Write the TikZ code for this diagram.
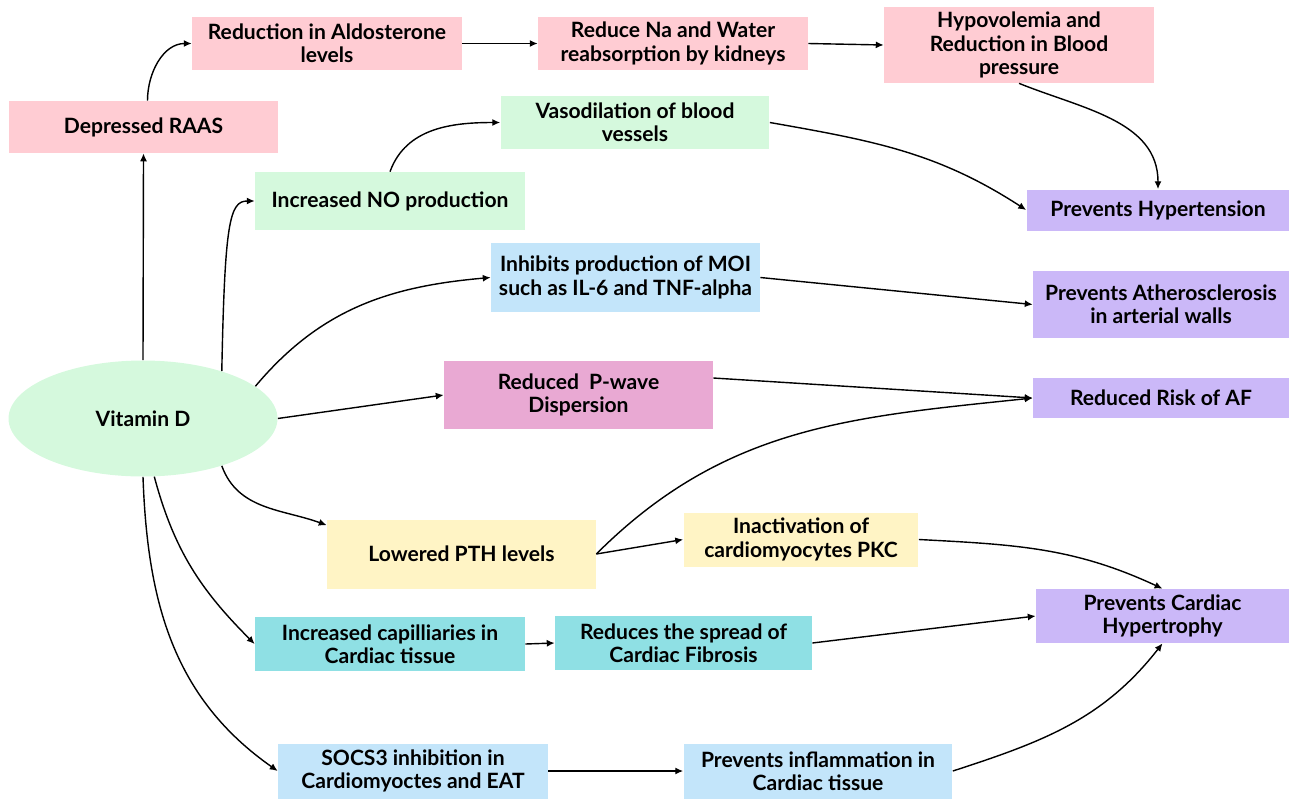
\documentclass[tikz,border=0pt]{standalone}
\usepackage{fontspec}
\setmainfont{Lato}
\usepackage{tikz}
\usetikzlibrary{arrows.meta,calc,positioning,shapes.geometric}

\definecolor{raaspink}{HTML}{FFCCD3}
\definecolor{nogreen}{HTML}{D5F9DD}
\definecolor{moiblue}{HTML}{C3E5FA}
\definecolor{pwavepink}{HTML}{E9A9D3}
\definecolor{outpurple}{HTML}{CBB8F8}
\definecolor{pthyellow}{HTML}{FFF4C5}
\definecolor{fibrocyan}{HTML}{8FE0E4}

\begin{document}
\begin{tikzpicture}[
    x=0.02cm, y=-0.02cm,
    font=\fontsize{12}{13.2}\selectfont\bfseries,
    box/.style={rectangle, align=center, inner sep=0, minimum width=5.4cm, minimum height=1.06cm},
    pinkbox/.style={box, fill=raaspink},
    greenbox/.style={box, fill=nogreen},
    bluebox/.style={box, fill=moiblue},
    purplebox/.style={box, fill=outpurple, minimum width=5.12cm},
    yellowbox/.style={box, fill=pthyellow},
    cyanbox/.style={box, fill=fibrocyan},
    arr/.style={-{Latex[length=4.5pt,width=4pt]}, line width=0.8pt}]

\useasboundingbox (0,0) rectangle (1290,798);

\node[ellipse, fill=nogreen, minimum width=5.38cm, minimum height=2.32cm, inner sep=0] (vitd) at (143,418.5) {Vitamin D};

\node[pinkbox, minimum width=5.38cm, minimum height=1.04cm] (raas) at (143.5,127) {Depressed RAAS};
\node[pinkbox] (aldo) at (327,43.5) {Reduction in Aldosterone\\levels};
\node[pinkbox] (kidney) at (673,43.5) {Reduce Na and Water\\reabsorption by kidneys};
\node[pinkbox, minimum height=1.52cm] (hypovol) at (1019,45) {Hypovolemia and\\Reduction in Blood\\pressure};

\node[greenbox, minimum width=5.38cm] (vaso) at (635,122.5) {Vasodilation of blood\\vessels};
\node[greenbox, minimum height=1.16cm] (nitric) at (390,201) {Increased NO production};

\node[bluebox, minimum width=5.38cm, minimum height=1.38cm] (moi) at (625.5,277.5) {Inhibits production of MOI\\such as IL-6 and TNF-alpha};
\node[box, fill=pwavepink, minimum width=5.38cm, minimum height=1.36cm] (pwave) at (578.5,395) {Reduced\ \ P-wave\\Dispersion};

\node[purplebox, minimum width=5.26cm, minimum height=0.82cm] (hypert) at (1158,210) {Prevents Hypertension};
\node[purplebox, minimum height=1.34cm] (athero) at (1161,304.5) {Prevents Atherosclerosis\\in arterial walls};
\node[purplebox, minimum height=0.8cm] (afrisk) at (1161,398) {Reduced Risk of AF};
\node[purplebox, minimum width=5.06cm, minimum height=1.08cm] (hypertro) at (1162.5,616) {Prevents Cardiac\\Hypertrophy};

\node[yellowbox, minimum width=5.38cm, minimum height=1.38cm] (pth) at (461.5,554) {Lowered PTH levels};
\node[yellowbox, minimum width=4.7cm, minimum height=1.08cm] (pkc) at (801,539.5) {Inactivation of\\cardiomyocytes PKC};

\node[cyanbox, minimum height=1.08cm] (capill) at (390,644) {Increased capilliaries in\\Cardiac tissue};
\node[cyanbox, minimum width=5.14cm, minimum height=1.08cm] (fibro) at (683.5,643) {Reduces the spread of\\Cardiac Fibrosis};

\node[bluebox, minimum height=1.1cm] (socs) at (413,771) {SOCS3 inhibition in\\Cardiomyoctes and EAT};
\node[bluebox, minimum width=5.38cm, minimum height=1.1cm] (inflam) at (818,771) {Prevents inflammation in\\Cardiac tissue};

\draw[arr] (vitd.north) -- (raas.south);
\draw[arr] ([xshift=0.08cm]raas.north) to[out=90, in=180] (aldo.west);
\draw[arr] (aldo.east) -- (kidney.west);
\draw[arr] (kidney.east) -- (hypovol.west);
\draw[arr] (hypovol.south) to[out=-22, in=90] (hypert.north);
\draw[arr] (vaso.east) to[out=-10, in=147] (hypert.west);
\draw[arr] (nitric.north) to[out=70, in=180] (vaso.west);
\draw[arr] (vitd.31) .. controls +(3,-150) and +(-25,0) .. (nitric.west);
\draw[arr] (vitd.16) to[out=50, in=185] (moi.west);
\draw[arr] (vitd.east) -- (pwave.west);
\draw[arr] (moi.east) -- (athero.west);
\draw[arr] ([yshift=0.34cm]pwave.east) -- (afrisk.west);
\draw[arr] (pth.east) to[out=45, in=186] (afrisk.west);
\draw[arr] (pth.east) -- (pkc.west);
\draw[arr] (pkc.east) to[out=-3, in=155] (hypertro.north);
\draw[arr] (vitd.-31) to[out=-70, in=160] ([yshift=-0.12cm]pth.north west);
\draw[arr] (vitd.south) to[out=-88, in=145] (socs.west);
\draw[arr] (vitd.-79) to[out=-75, in=135] (capill.west);
\draw[arr] (capill.east) -- (fibro.west);
\draw[arr] (fibro.east) -- (hypertro.west);
\draw[arr] (socs.east) -- (inflam.west);
\draw[arr] (inflam.east) to[out=18, in=-128] (hypertro.south);

\end{tikzpicture}
\end{document}
